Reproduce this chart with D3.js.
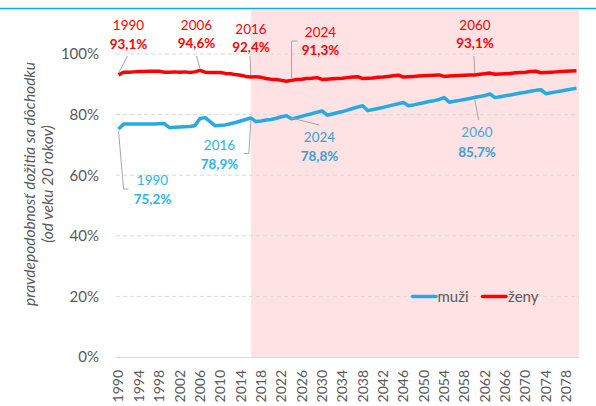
<!DOCTYPE html>
<html><head><meta charset="utf-8">
<script src="https://cdn.jsdelivr.net/npm/d3@7"></script>
<style>
body{margin:0;background:#fff}
svg{display:block}
text{font-family:Lato,'Open Sans',sans-serif}
</style>
</head><body>
<svg id="c" width="596" height="406"></svg>
<script>
// ---------- DATA ----------
const years = d3.range(1990, 2081);
const muzi = [
 75.2,76.9,76.9,76.9,76.9,76.9,76.9,76.9,77.0,77.0,
 75.7,75.8,75.9,76.0,76.1,76.3,78.7,79.0,77.7,76.3,
 76.5,76.6,77.0,77.4,77.9,78.4,78.9,77.7,77.9,78.2,
 78.4,78.8,79.3,79.6,78.6,79.0,79.4,79.9,80.3,80.8,
 81.2,79.8,80.2,80.6,81.0,81.5,82.0,82.5,82.9,81.3,
 81.7,82.0,82.4,82.8,83.2,83.6,84.0,82.9,83.2,83.6,
 83.9,84.3,84.6,85.0,85.6,84.1,84.4,84.7,85.0,85.3,
 85.7,86.0,86.3,86.8,85.6,85.9,86.2,86.5,86.8,87.1,
 87.4,87.7,88.0,88.2,86.9,87.2,87.5,87.8,88.1,88.4,
 88.7];
const zeny = [
 93.1,94.0,94.0,94.1,94.2,94.2,94.3,94.3,94.3,94.0,
 94.0,94.1,94.0,94.1,93.9,94.1,94.6,94.0,93.9,93.9,
 93.9,93.6,93.5,93.2,93.0,92.6,92.4,92.5,92.3,91.9,
 91.7,91.6,91.3,91.0,91.3,91.6,91.7,91.9,92.0,92.2,
 91.6,91.7,91.8,91.9,92.0,92.2,92.4,92.5,91.9,92.0,
 92.1,92.3,92.4,92.6,92.8,93.0,92.4,92.5,92.6,92.7,
 92.8,92.9,93.0,93.1,92.6,92.7,92.8,92.9,93.0,93.1,
 93.1,93.3,93.5,93.7,93.3,93.4,93.5,93.6,93.8,93.9,
 94.0,94.2,94.3,93.8,93.9,94.0,94.1,94.2,94.3,94.4,
 94.5];
const yTicks = [0, 20, 40, 60, 80, 100];
const xTickLabels = [1990,1994,1998,2002,2006,2010,2014,2018,2022,2026,2030,2034,2038,2042,2046,2050,2054,2058,2062,2066,2070,2074,2078];
const forecastStart = 2016;
const seriesNames = ["muži", "ženy"];
const yTitle = ["pravdepodobnosť dožitia sa dôchodku", "(od veku 20 rokov)"];
const annYearsZeny = [1990, 2006, 2016, 2024, 2060];
const annTextZeny = ["93,1%", "94,6%", "92,4%", "91,3%", "93,1%"];
const annYearsMuzi = [1990, 2016, 2024, 2060];
const annTextMuzi = ["75,2%", "78,9%", "78,8%", "85,7%"];

// ---------- LAYOUT ----------
const W = 596, H = 406;
const L = 116, R = 579, T = 54, B = 357;
const colMuzi = "#27A9E1", colZeny = "#FF0000";
const gridCol = "#D9D9D9", textCol = "#595959";

const svg = d3.select("#c");
const x = d3.scaleBand().domain(years).range([L, R]).padding(0);
const bw = x.bandwidth();
const cx = yr => x(yr) + bw / 2;
const y = d3.scaleLinear().domain([0, 100]).range([B, T]);

// header line
svg.append("line").attr("x1", 0).attr("x2", W).attr("y1", 8.5).attr("y2", 8.5)
  .attr("stroke", "#00B0F0").attr("stroke-width", 1.5);

// forecast shading
svg.append("rect").attr("x", cx(forecastStart)).attr("y", 10)
  .attr("width", R - cx(forecastStart)).attr("height", B - 10)
  .attr("fill", "#FFE2E4");

// gridlines
svg.append("g").selectAll("line").data(yTicks.filter(d => d > 0)).join("line")
  .attr("x1", L).attr("x2", R).attr("y1", d => y(d)).attr("y2", d => y(d))
  .attr("stroke", gridCol).attr("stroke-width", 1).attr("stroke-dasharray", "4,3");

// y axis labels
const yAxis = d3.axisLeft(y).tickValues(yTicks).tickFormat(d => d + "%").tickSize(0).tickPadding(0);
const gy = svg.append("g").attr("transform", `translate(${L - 17},0)`).call(yAxis);
gy.select(".domain").remove();
gy.selectAll("text").attr("font-size", 15).attr("fill", textCol)
  .style("font-family", "Lato,'Open Sans',sans-serif");

// x axis
const xAxis = d3.axisBottom(x).tickValues(xTickLabels).tickSize(0).tickPadding(0);
const gx = svg.append("g").attr("transform", `translate(0,${B})`).call(xAxis);
gx.select(".domain").attr("stroke", gridCol);
gx.selectAll("text").attr("font-size", 14).attr("fill", textCol)
  .style("font-family", "Lato,'Open Sans',sans-serif")
  .attr("transform", "rotate(-90)").attr("text-anchor", "end")
  .attr("x", -13).attr("y", 0).attr("dy", "0.35em");

// y title
svg.append("text").attr("transform", "translate(35,184) rotate(-90)")
  .attr("text-anchor", "middle").attr("font-size", 15.5).attr("font-style", "italic")
  .attr("fill", textCol).text(yTitle[0]);
svg.append("text").attr("transform", "translate(53,184) rotate(-90)")
  .attr("text-anchor", "middle").attr("font-size", 15.5).attr("font-style", "italic")
  .attr("fill", textCol).text(yTitle[1]);

// lines
const line = d3.line().x((d, i) => cx(years[i])).y(d => y(d));
svg.append("path").datum(muzi).attr("d", line).attr("fill", "none")
  .attr("stroke", colMuzi).attr("stroke-width", 3.5).attr("stroke-linejoin", "round");
svg.append("path").datum(zeny).attr("d", line).attr("fill", "none")
  .attr("stroke", colZeny).attr("stroke-width", 3.5).attr("stroke-linejoin", "round");

// annotations
const valAt = (arr, yr) => arr[years.indexOf(yr)];
const leaderCol = "#A6A6A6";
function leader(pts) {
  svg.append("path").attr("d", d3.line()(pts)).attr("fill", "none")
    .attr("stroke", leaderCol).attr("stroke-width", 1);
}
function label(xc, y1, y2, yrTxt, valTxt, col1, col2) {
  svg.append("text").attr("x", xc).attr("y", y1).attr("dy", "0.35em")
    .attr("text-anchor", "middle").attr("font-size", 13.5).attr("fill", col1).text(yrTxt);
  svg.append("text").attr("x", xc).attr("y", y2).attr("dy", "0.35em")
    .attr("text-anchor", "middle").attr("font-size", 13.5).attr("font-weight", "bold")
    .attr("fill", col2).text(valTxt);
}
// women label placements [label centre x, year-line y, value-line y]
const zPos = [[128.5, 25, 44], [196.5, 25, 43], [251, 29, 47], [320.5, 32, 50], [475, 25, 43]];
annYearsZeny.forEach((yr, i) => {
  const px = cx(yr), py = y(valAt(zeny, yr)) - 2;
  const [lx, l1, l2] = zPos[i];
  if (yr === 2024) leader([[px, py], [px, 41], [px + 6, 41]]);
  else leader([[px, py], [lx + (px < lx ? -1 : 0), 56]]);
  label(lx, l1, l2, String(yr), annTextZeny[i], colZeny, colZeny);
});
const mPos = [[152.5, 180, 199], [219.5, 145, 164], [319.5, 137, 156], [477, 132, 152]];
const mCol1 = ["#2DB3EA", "#2DB3EA", "#3D9ED3", "#4FA6D8"];
const mCol2 = ["#2DB3EA", "#2DB3EA", "#3D9ED3", "#3D9ED3"];
annYearsMuzi.forEach((yr, i) => {
  const px = cx(yr), py = y(valAt(muzi, yr)) + 2;
  const [lx, l1, l2] = mPos[i];
  if (yr === 1990) leader([[px, py], [px + 5, 189], [px + 10, 189]]);
  else if (yr === 2016) leader([[px, py], [px - 2, 153.5], [px - 7, 153.5]]);
  else if (yr === 2024) leader([[px - 1, py - 3], [px + 28, 125]]);
  else leader([[px, py], [px + 4, 120]]);
  label(lx, l1, l2, String(yr), annTextMuzi[i], mCol1[i], mCol2[i]);
});

// legend
const lg = svg.append("g");
const legY = y(20);
[[412.5, 436, colMuzi, 437.5], [482.5, 506, colZeny, 508]].forEach((p, i) => {
  lg.append("line").attr("x1", p[0]).attr("x2", p[1]).attr("y1", legY).attr("y2", legY)
    .attr("stroke", p[2]).attr("stroke-width", 3.5).attr("stroke-linecap", "round");
  lg.append("text").attr("x", p[3]).attr("y", legY).attr("dy", "0.35em")
    .attr("font-size", 15).attr("fill", textCol).text(seriesNames[i]);
});
</script>
</body></html>
